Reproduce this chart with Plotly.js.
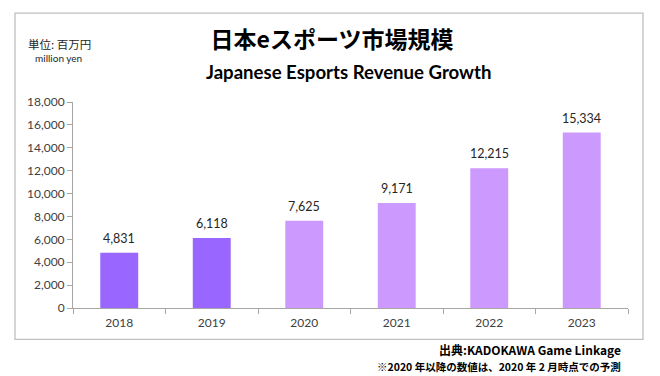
<!DOCTYPE html>
<html><head><meta charset="utf-8">
<script src="https://cdn.plot.ly/plotly-3.0.1.min.js"></script>
<style>html,body{margin:0;padding:0;background:#fff}#c{width:660px;height:376px}</style>
</head><body><div id="c"></div>
<script>
const years = ['2018','2019','2020','2021','2022','2023'];
const revenue = [4831, 6118, 7625, 9171, 12215, 15334];
const barColors = ['#9966ff','#9966ff','#cc99ff','#cc99ff','#cc99ff','#cc99ff'];
const titleJa = '日本eスポーツ市場規模';
const titleEn = 'Japanese Esports Revenue Growth';
const unitJa = '単位: 百万円';
const unitEn = 'million yen';
const sourceText = '出典:KADOKAWA Game Linkage';
const noteText = '※2020 年以降の数値は、2020 年 2 月時点での予測';

const baseFont = 'Lato, "Noto Sans CJK JP", sans-serif';

const data = [{
  type:'bar', x: years, y: revenue, marker:{color: barColors, line:{width:0}},
  width:0.41, hoverinfo:'skip',
  text: revenue.map(v=>v.toLocaleString('en-US')), textposition:'none'
}];

const labelAnn = years.map((y,i)=>({
  x: i, y: revenue[i], xref:'x', yref:'y', text: data[0].text[i],
  showarrow:false, yanchor:'bottom', yshift:5, font:{family:baseFont,size:12.5,color:'#262626'}
}));

const px = v => (v-73)/555;
const py = v => (308.5-v)/206.5;

const layout = {
  width:660, height:376,
  margin:{l:73, r:32, t:102, b:67.5},
  paper_bgcolor:'#fff', plot_bgcolor:'#fff',
  showlegend:false,
  font:{family:baseFont, size:12, color:'#404040'},
  title:{text: titleJa, x:332/660, xref:'container', y:1-40/376, yref:'container', xanchor:'center', yanchor:'middle',
    font:{family:'"Noto Sans CJK JP", sans-serif', size:23, weight:'bold', color:'#000'}},
  xaxis:{type:'category', categoryorder:'array', categoryarray: years, range:[-0.5,5.5], autorange:false,
    showline:true, linecolor:'#a6a6a6', linewidth:1,
    ticks:'outside', tickson:'boundaries', ticklen:5, tickcolor:'#a6a6a6', tickangle:0, ticklabelstandoff:4,
    tickfont:{family:baseFont, size:12, color:'#404040'}, showgrid:false, zeroline:false, fixedrange:true},
  yaxis:{range:[0,18000], autorange:false, tickvals:[0,2000,4000,6000,8000,10000,12000,14000,16000,18000],
    tickformat:',d', showline:true, linecolor:'#a6a6a6', linewidth:1, ticks:'outside', ticklen:5,
    tickcolor:'#a6a6a6', showgrid:false, zeroline:false,
    tickfont:{family:baseFont, size:12, color:'#404040'}, fixedrange:true},
  shapes:[{type:'rect', xref:'paper', yref:'paper', x0:px(15), x1:px(643),
    y0:py(340), y1:py(13), line:{color:'#bfbfbf', width:1.3}, fillcolor:'rgba(0,0,0,0)', layer:'below'}],
  annotations: labelAnn.concat([
    {text:titleEn, xref:'paper', yref:'paper', x:px(348), y:py(72), xanchor:'center', yanchor:'middle',
      showarrow:false, font:{family:'Lato, sans-serif', size:18.6, weight:'bold', color:'#000'}},
    {text:unitJa, xref:'paper', yref:'paper', x:px(59), y:py(44), xanchor:'center', yanchor:'middle',
      showarrow:false, font:{family:'"Noto Sans CJK JP", sans-serif', size:11.5, color:'#262626'}},
    {text:unitEn, xref:'paper', yref:'paper', x:px(58), y:py(57.5), xanchor:'center', yanchor:'middle',
      showarrow:false, font:{family:baseFont, size:10, color:'#262626'}},
    {text:sourceText, xref:'paper', yref:'paper', x:px(623), y:py(350), xanchor:'right', yanchor:'middle',
      showarrow:false, font:{family:'"Noto Sans CJK JP", sans-serif', size:12, weight:'bold', color:'#000'}},
    {text:noteText, xref:'paper', yref:'paper', x:px(623), y:py(367), xanchor:'right', yanchor:'middle',
      showarrow:false, font:{family:'"Noto Sans CJK JP", sans-serif', size:10.5, weight:'bold', color:'#000'}}
  ])
};
Plotly.newPlot('c', data, layout, {displayModeBar:false, staticPlot:true});
</script></body></html>
